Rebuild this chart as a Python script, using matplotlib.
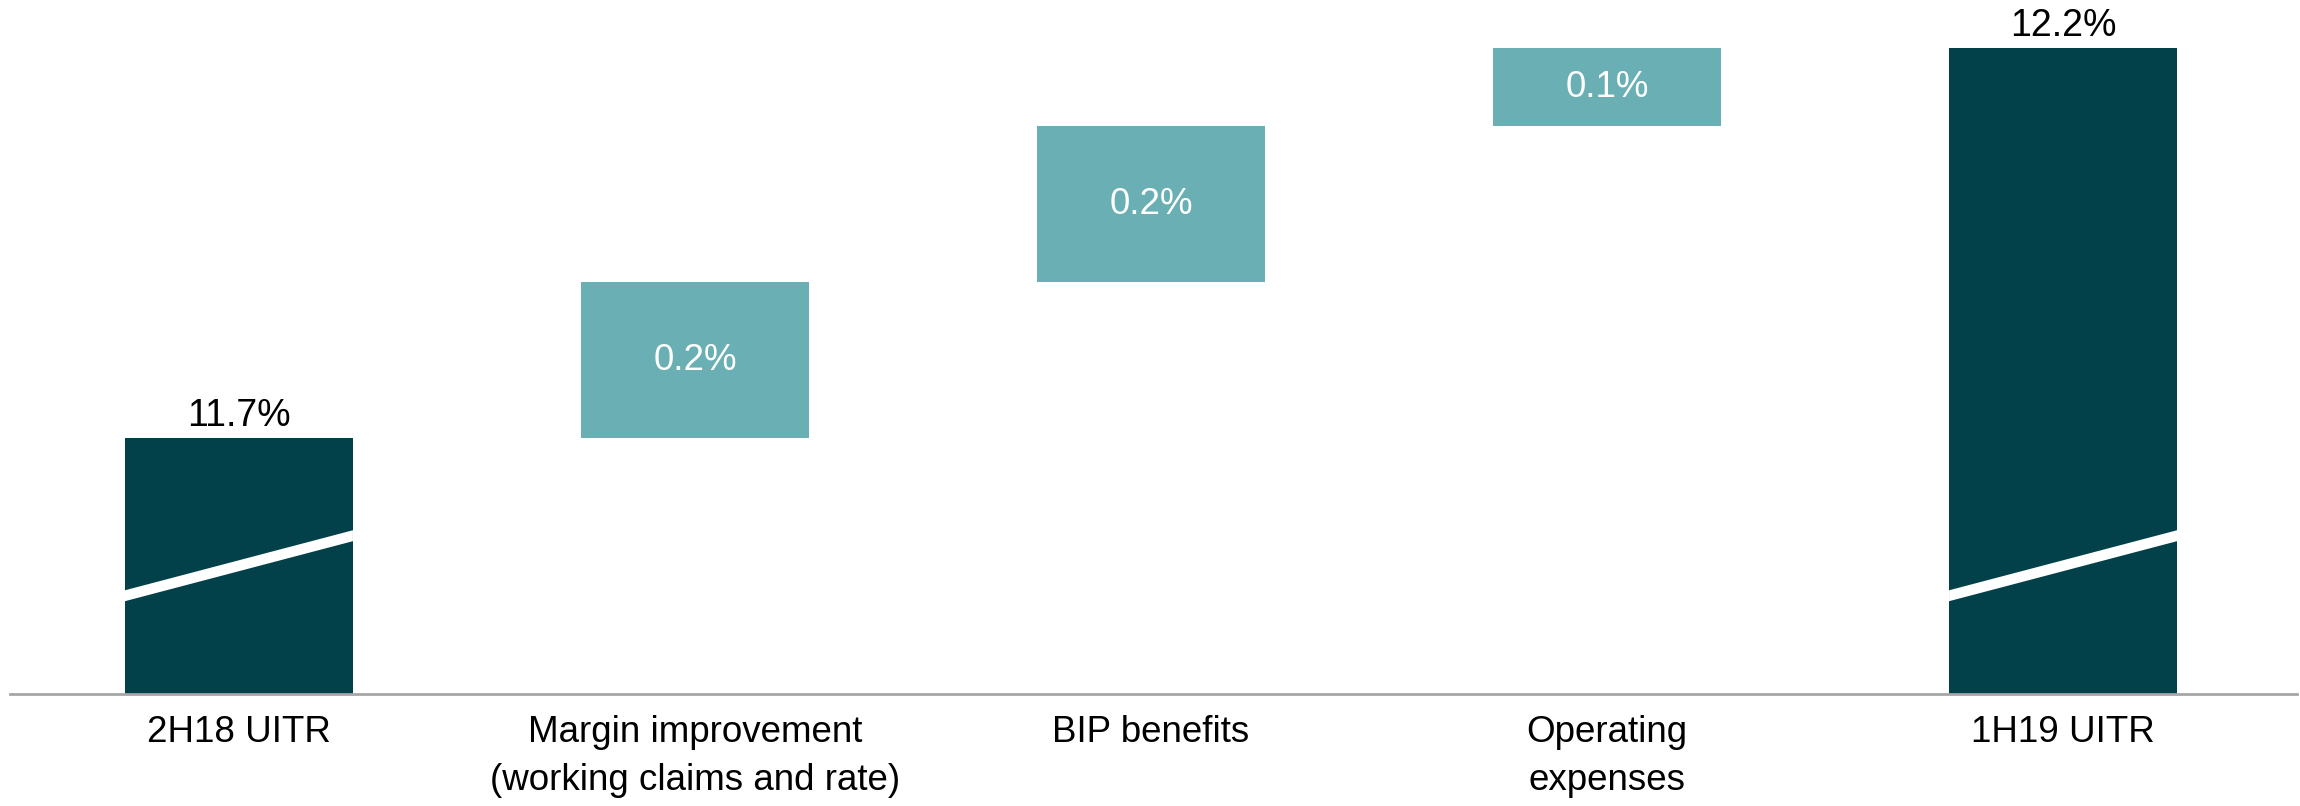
import matplotlib.pyplot as plt
import numpy as np

plt.rcParams['font.family'] = ['Liberation Sans', 'DejaVu Sans']

# waterfall data (percent)
categories = ['2H18 UITR', 'Margin improvement\n(working claims and rate)',
              'BIP benefits', 'Operating\nexpenses', '1H19 UITR']
start_value = 11.7
steps = [0.2, 0.2, 0.1]
end_value = 12.2

DARK = '#03414A'
LIGHT = '#6AAFB4'
Y_MIN, Y_MAX = 11.372, 12.262


def visualize():
    fig = plt.figure(figsize=(23, 8.06), dpi=100)
    ax = fig.add_axes([10 / 2300, 112 / 806, 2287 / 2300, 694 / 806])

    x = np.arange(len(categories))
    width = 0.5

    # totals
    for xi, val in [(x[0], start_value), (x[-1], end_value)]:
        ax.bar(xi, val - Y_MIN, bottom=Y_MIN, width=width, color=DARK)
        ax.text(xi, val + 0.006, f'{val:.1f}%', ha='center', va='bottom',
                fontsize=27, color='black')
        # axis-break stripe
        bx = [xi - width / 2, xi + width / 2, xi + width / 2, xi - width / 2]
        by = [11.491, 11.568, 11.582, 11.505]
        ax.fill(bx, by, color='white', lw=0, zorder=3)

    # increments
    base = start_value
    for xi, s in zip(x[1:-1], steps):
        ax.bar(xi, s, bottom=base, width=width, color=LIGHT)
        ax.text(xi, base + s / 2, f'{s:.1f}%', ha='center', va='center',
                fontsize=26.5, color='white')
        base += s

    ax.set_xlim(-0.502, 4.513)
    ax.set_ylim(Y_MIN, Y_MAX)
    ax.set_xticks(x)
    ax.set_xticklabels(categories, fontsize=26.5, linespacing=1.5)
    ax.tick_params(axis='x', length=0, pad=15)
    ax.set_yticks([])
    for side in ['top', 'left', 'right']:
        ax.spines[side].set_visible(False)
    ax.spines['bottom'].set_color('#A6A6A6')
    ax.spines['bottom'].set_linewidth(2)

    fig.savefig('out.png', dpi=100)
    plt.close(fig)


if __name__ == "__main__":
    visualize()
